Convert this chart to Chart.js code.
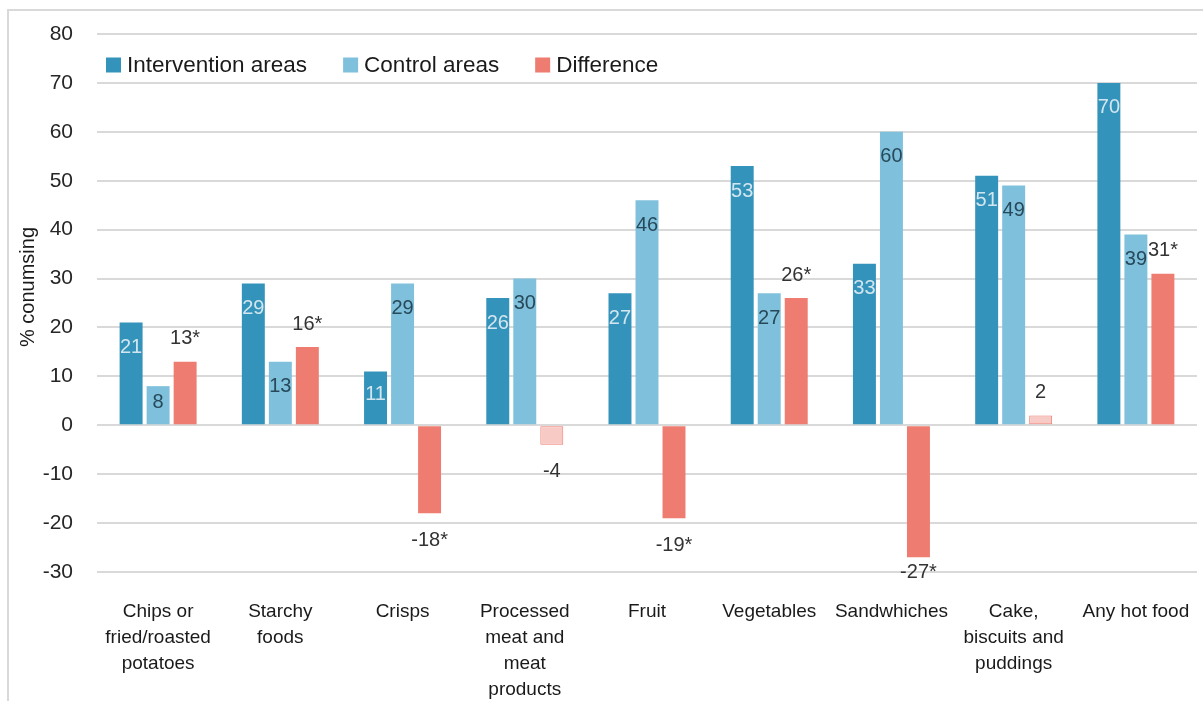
<!DOCTYPE html>
<html>
<head>
<meta charset="utf-8">
<script src="https://cdn.jsdelivr.net/npm/chart.js@4.4.1/dist/chart.umd.min.js"></script>
<style>
  html, body { margin: 0; padding: 0; background: #fff; }
  canvas { display: block; }
</style>
</head>
<body>
<canvas id="chart" width="1203" height="701"></canvas>
<script>
// Food groups on the x axis (multi-line labels as arrays)
const categories = [
  ["Chips or", "fried/roasted", "potatoes"],
  ["Starchy", "foods"],
  "Crisps",
  ["Processed", "meat and", "meat", "products"],
  "Fruit",
  "Vegetables",
  "Sandwhiches",
  ["Cake,", "biscuits and", "puddings"],
  "Any hot food"
];
const seriesNames = ["Intervention areas", "Control areas", "Difference"];
const interventionAreas = [21, 29, 11, 26, 27, 53, 33, 51, 70];
const controlAreas = [8, 13, 29, 30, 46, 27, 60, 49, 39];
const difference = [13, 16, -18, -4, -19, 26, -27, 2, 31];
// Differences marked with * are statistically significant
const diffSignificant = [true, true, true, false, true, true, true, false, true];
const yMin = -30, yMax = 80, yStep = 10;
const yTitle = "% conumsing";

const FONT = '"Liberation Sans", Arial, Helvetica, sans-serif';
const C_INT = '#3393ba';
const C_CTL = '#7fc1dc';
const C_DIFF = '#ee7c70';
const C_DIFF_PALE = '#f8cac6';

const diffFill = diffSignificant.map(s => s ? C_DIFF : C_DIFF_PALE);
const diffBorder = diffSignificant.map(s => s ? 0 : 1);

// Value labels: inside the top of the blue bars, outside the end of the difference bars
const labelStyle = [
  { mode: 'inside', color: '#d3e6ef' },
  { mode: 'inside', color: '#27495a' },
  { mode: 'outside', color: '#333333' }
];

const valueLabels = {
  id: 'valueLabels',
  afterDatasetsDraw(chart) {
    const ctx = chart.ctx;
    const area = chart.chartArea;
    ctx.save();
    ctx.textAlign = 'center';
    ctx.textBaseline = 'middle';
    ctx.font = '20px ' + FONT;
    chart.data.datasets.forEach((ds, di) => {
      const style = labelStyle[di];
      const meta = chart.getDatasetMeta(di);
      meta.data.forEach((bar, i) => {
        const v = ds.data[i];
        const top = Math.min(bar.y, bar.base);
        const bottom = Math.max(bar.y, bar.base);
        const h = bottom - top;
        let text = String(v);
        let y;
        if (style.mode === 'inside') {
          y = top + Math.min(25, h / 2 - 3);
        } else {
          if (diffSignificant[i]) text += '*';
          y = v >= 0 ? top - 23 : Math.min(bottom + 27, area.bottom);
        }
        ctx.fillStyle = style.color;
        ctx.fillText(text, bar.x, y);
      });
    });
    ctx.restore();
  }
};

// Legend drawn inside the plot area, top-left
const innerLegend = {
  id: 'innerLegend',
  afterDraw(chart) {
    const ctx = chart.ctx;
    ctx.save();
    ctx.font = '22.5px ' + FONT;
    ctx.textBaseline = 'middle';
    ctx.textAlign = 'left';
    let x = 106;
    const cy = 65;
    const colors = [C_INT, C_CTL, C_DIFF];
    seriesNames.forEach((name, i) => {
      ctx.fillStyle = colors[i];
      ctx.fillRect(x, cy - 7.5, 15, 15);
      ctx.fillStyle = '#1a1a1a';
      ctx.fillText(name, x + 21, cy + 1);
      x += 21 + ctx.measureText(name).width + 36;
    });
    ctx.restore();
  }
};

// Light frame on the left and top edges, plus the rotated y-axis title
const frame = {
  id: 'frame',
  beforeDraw(chart) {
    const ctx = chart.ctx;
    ctx.save();
    ctx.strokeStyle = '#d9d9d9';
    ctx.lineWidth = 2;
    ctx.beginPath();
    ctx.moveTo(8, 701);
    ctx.lineTo(8, 10);
    ctx.lineTo(1203, 10);
    ctx.stroke();
    ctx.translate(28, 287);
    ctx.rotate(-Math.PI / 2);
    ctx.font = '20px ' + FONT;
    ctx.fillStyle = '#1a1a1a';
    ctx.textAlign = 'center';
    ctx.textBaseline = 'middle';
    ctx.fillText(yTitle, 0, 0);
    ctx.restore();
  }
};

new Chart(document.getElementById('chart'), {
  type: 'bar',
  data: {
    labels: categories,
    datasets: [
      { label: seriesNames[0], data: interventionAreas, backgroundColor: C_INT, borderWidth: 0 },
      { label: seriesNames[1], data: controlAreas, backgroundColor: C_CTL, borderWidth: 0 },
      { label: seriesNames[2], data: difference, backgroundColor: diffFill,
        borderColor: C_DIFF, borderWidth: diffBorder, borderSkipped: false }
    ]
  },
  options: {
    responsive: false,
    animation: false,
    devicePixelRatio: 1,
    categoryPercentage: 0.663,
    barPercentage: 0.85,
    layout: { padding: { left: 10, top: 34, right: 6, bottom: 0 } },
    plugins: {
      legend: { display: false },
      tooltip: { enabled: false }
    },
    scales: {
      x: {
        grid: { display: false },
        border: { display: false },
        ticks: {
          color: '#1a1a1a',
          font: { family: FONT, size: 19, lineHeight: '26px' },
          padding: 19,
          maxRotation: 0,
          autoSkip: false
        },
        afterFit(s) { s.height = 129; s.paddingLeft = 0; s.paddingRight = 0; }
      },
      y: {
        min: yMin,
        max: yMax,
        border: { display: false },
        grid: { color: '#d9d9d9', lineWidth: 2, drawTicks: false },
        ticks: {
          stepSize: yStep,
          color: '#262626',
          font: { family: FONT, size: 21 },
          padding: 24
        },
        afterFit(s) { s.width = 87; s.paddingTop = 0; s.paddingBottom = 0; }
      }
    }
  },
  plugins: [frame, valueLabels, innerLegend]
});
</script>
</body>
</html>
